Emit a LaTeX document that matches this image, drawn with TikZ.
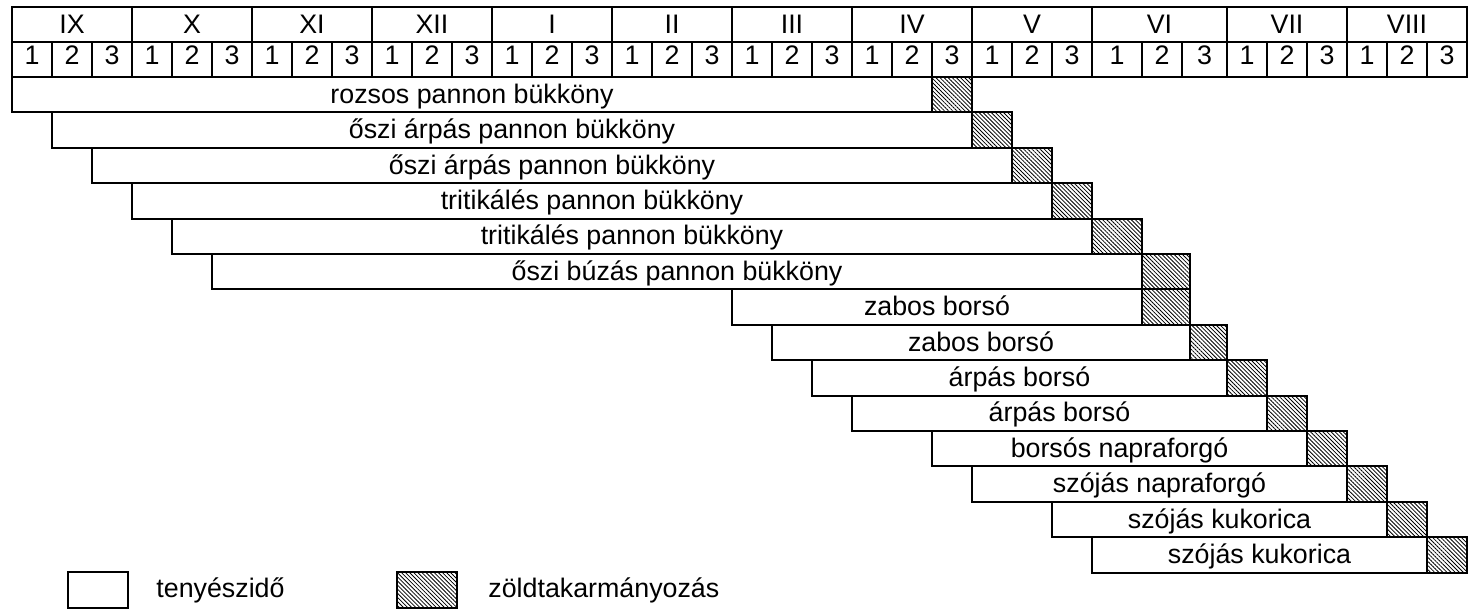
\documentclass[tikz,border=0pt]{standalone}
\usepackage{fontspec}
\setmainfont{Liberation Sans}
\usetikzlibrary{patterns.meta}

\tikzset{
  cell/.style={draw, line width=1pt},
  growbar/.style={draw, line width=1pt, fill=white},
  greenbar/.style={draw, line width=1pt, pattern={Lines[angle=-45, distance=1.45pt, line width=0.4pt]}},
  lbl/.style={inner sep=0pt, anchor=base, font=\fontsize{13.4}{16}\selectfont},
}

\begin{document}
\begin{tikzpicture}[x=0.5pt, y=-0.5pt]
  \useasboundingbox (0,0) rectangle (1468,610);

  % Months
  \foreach \a/\b/\m [count=\k] in {12/132/IX, 132/252/X, 252/372/XI, 372/492/XII,
      492/612/I, 612/732/II, 732/852/III, 852/972/IV, 972/1092/V,
      1092/1227/VI, 1227/1347/VII, 1347/1467/VIII}{
    \draw[cell] (\a,7) rectangle (\b,42);
    \node[lbl] (m\k) at ({(\a+\b)/2},33.3) {\m};
  }

  % Ten-day periods
  \foreach \i in {0,...,26}{
    \pgfmathtruncatemacro\d{mod(\i,3)+1}
    \draw[cell] ({12+40*\i},42) rectangle ({52+40*\i},77);
    \node[lbl] (d\i) at ({32+40*\i},65) {\d};
  }
  \foreach \a/\b/\d [count=\k from 27] in {1092/1142/1, 1142/1182/2, 1182/1227/3,
      1227/1267/1, 1267/1307/2, 1307/1347/3, 1347/1387/1, 1387/1427/2, 1427/1467/3}{
    \draw[cell] (\a,42) rectangle (\b,77);
    \node[lbl] (d\k) at ({(\a+\b)/2},65) {\d};
  }

  % Crops
  \foreach \s/\h/\e/\t [count=\i from 0] in {
      12/932/972/rozsos pannon bükköny,
      52/972/1012/őszi árpás pannon bükköny,
      92/1012/1052/őszi árpás pannon bükköny,
      132/1052/1092/tritikálés pannon bükköny,
      172/1092/1142/tritikálés pannon bükköny,
      212/1142/1190/őszi búzás pannon bükköny,
      732/1142/1190/zabos borsó,
      772/1190/1227/zabos borsó,
      812/1227/1267/árpás borsó,
      852/1267/1307/árpás borsó,
      932/1307/1347/borsós napraforgó,
      972/1347/1387/szójás napraforgó,
      1052/1387/1427/szójás kukorica,
      1092/1427/1467/szójás kukorica}{
    \pgfmathsetmacro\ytop{77+35.4*\i}
    \pgfmathsetmacro\ybot{77+35.4*(\i+1)}
    \draw[growbar] (\s,\ytop) rectangle (\h,\ybot);
    \draw[greenbar] (\h,\ytop) rectangle (\e,\ybot);
    \node[lbl] (c\i) at ({(\s+\h)/2},{\ytop+26.3}) {\t};
  }

  % Legend
  \draw[growbar] (68,572) rectangle (128,608);
  \node[lbl, anchor=base west] (leg1) at (156,597) {tenyészidő};
  \draw[greenbar] (397,572) rectangle (457,608);
  \node[lbl, anchor=base west] (leg2) at (488,597) {zöldtakarmányozás};
\end{tikzpicture}
\end{document}
